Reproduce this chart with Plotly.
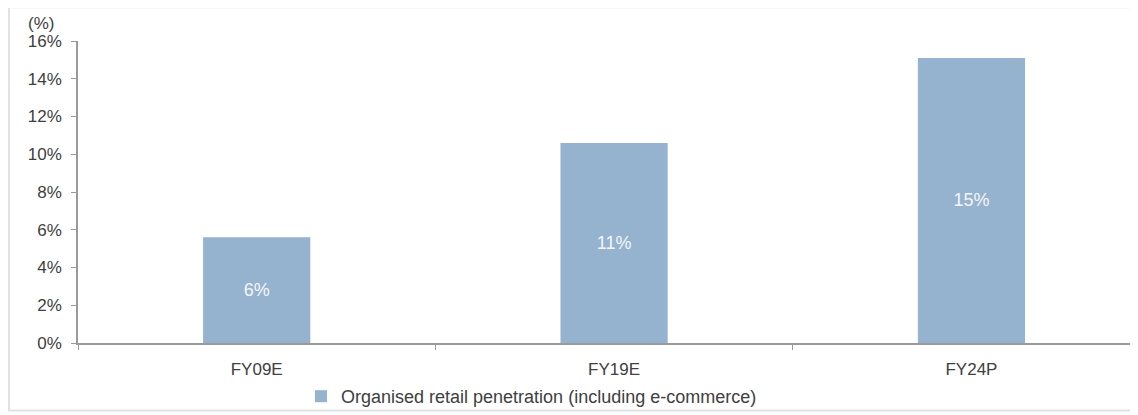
import plotly.graph_objects as go

categories = ["FY09E", "FY19E", "FY24P"]
penetration = [5.6, 10.6, 15.1]
bar_labels = ["6%", "11%", "15%"]
series_name = "Organised retail penetration (including e-commerce)"

# page body has an 8px margin; figure positions are reference pixels minus 8
O = 8
W, H = 1138 - O, 415 - O
L, R, T, B = 78 - O, 0, 41 - O, 70
pw, ph = W - L - R, H - T - B

def px_x(x):
    return (x - O - L) / pw

def px_y(y):
    return (H - B - (y - O)) / ph

FONT = "Liberation Sans, Arial, sans-serif"
TXT = "#404040"
AX = "#9a9a9a"

fig = go.Figure()
fig.add_trace(go.Bar(
    x=categories, y=penetration, name=series_name,
    marker=dict(color="#95B3CE", line=dict(width=0)),
    text=bar_labels, textposition="inside", insidetextanchor="middle",
    textfont=dict(family=FONT, size=18, color="#F4F6F9"),
    textangle=0, showlegend=True,
))

fig.update_layout(
    width=W, height=H,
    margin=dict(l=L, r=R, t=T, b=B, pad=0),
    paper_bgcolor="white", plot_bgcolor="white",
    bargap=0.7,
    font=dict(family=FONT, color=TXT, size=16),
    xaxis=dict(
        range=[-0.5, 2.466], showline=True, linecolor=AX, linewidth=1.5,
        ticks="outside", tickson="boundaries", ticklen=5, tickcolor=AX,
        showgrid=False, tickfont=dict(size=17, color=TXT), fixedrange=True,
        ticklabelstandoff=10,
    ),
    yaxis=dict(
        range=[0, 16], dtick=2, ticksuffix="%", showline=True, linecolor=AX,
        linewidth=1.5, ticks="outside", ticklen=5, tickcolor=AX,
        showgrid=False, zeroline=False, tickfont=dict(size=17, color=TXT),
        ticklabelstandoff=6,
    ),
    legend=dict(
        orientation="h", x=px_x(301), xanchor="left", y=px_y(399),
        yanchor="middle", font=dict(size=18, color=TXT),
        bgcolor="rgba(0,0,0,0)",
    ),
    annotations=[dict(
        text="(%)", xref="paper", yref="paper", x=px_x(41), y=px_y(23),
        xanchor="center", yanchor="middle", showarrow=False,
        font=dict(size=17, color=TXT),
    )],
    shapes=[dict(
        type="rect", xref="paper", yref="paper",
        x0=px_x(9), x1=px_x(1160), y0=px_y(413), y1=px_y(7),
        line=dict(color="#e2e2e2", width=2), layer="below",
    )],
)

fig.write_html("out.html")
